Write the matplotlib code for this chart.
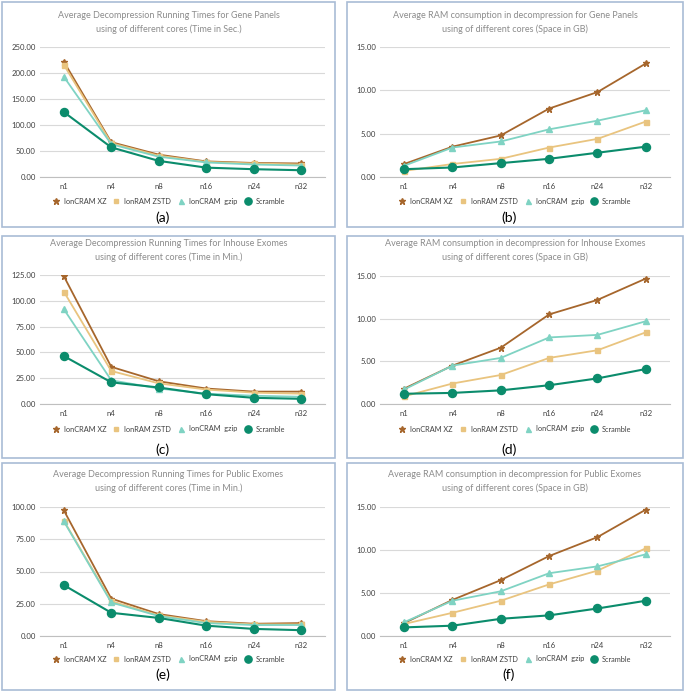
import numpy as np
import matplotlib
matplotlib.use("Agg")
import matplotlib.pyplot as plt
from matplotlib.lines import Line2D
from matplotlib.patches import Rectangle

plt.rcParams['font.family'] = ['Lato', 'DejaVu Sans']

cores = ['n1', 'n4', 'n8', 'n16', 'n24', 'n32']
series_names = ['IonCRAM XZ', 'IonRAM ZSTD', 'IonCRAM  gzip', 'Scramble']

# (a) gene panels, time in sec
gene_time_xz = [222, 67, 43, 30, 27, 26]
gene_time_zstd = [216, 65, 41, 29, 26, 24]
gene_time_gzip = [193, 63, 39, 28, 24, 22]
gene_time_scr = [125, 57, 31, 18, 15, 13]

# (b) gene panels, RAM in GB
gene_ram_xz = [1.5, 3.5, 4.8, 7.9, 9.8, 13.1]
gene_ram_zstd = [0.7, 1.5, 2.1, 3.4, 4.4, 6.4]
gene_ram_gzip = [1.3, 3.4, 4.1, 5.5, 6.5, 7.7]
gene_ram_scr = [0.9, 1.1, 1.6, 2.1, 2.8, 3.5]

# (c) inhouse exomes, time in min
inh_time_xz = [124, 36, 22, 15, 12, 12]
inh_time_zstd = [109, 32, 20, 14, 11, 10]
inh_time_gzip = [92, 23, 15, 10, 8, 7]
inh_time_scr = [46.5, 21, 16, 9.5, 6, 5]

# (d) inhouse exomes, RAM in GB
inh_ram_xz = [1.8, 4.5, 6.6, 10.5, 12.2, 14.7]
inh_ram_zstd = [0.9, 2.4, 3.4, 5.4, 6.3, 8.4]
inh_ram_gzip = [1.7, 4.5, 5.4, 7.8, 8.1, 9.7]
inh_ram_scr = [1.2, 1.3, 1.6, 2.2, 3.0, 4.1]

# (e) public exomes, time in min
pub_time_xz = [97.5, 29, 17, 11.5, 9.5, 10]
pub_time_zstd = [89.5, 27, 16, 11, 9, 9]
pub_time_gzip = [89, 26, 15.5, 10, 8.5, 8.5]
pub_time_scr = [39.5, 18, 14, 8, 5.5, 4.5]

# (f) public exomes, RAM in GB
pub_ram_xz = [1.5, 4.2, 6.5, 9.3, 11.5, 14.7]
pub_ram_zstd = [1.4, 2.7, 4.1, 6.0, 7.6, 10.2]
pub_ram_gzip = [1.6, 4.1, 5.2, 7.3, 8.1, 9.5]
pub_ram_scr = [1.0, 1.2, 2.0, 2.4, 3.2, 4.1]

titles = [
    'Average Decompression Running Times for Gene Panels\nusing of different cores (Time in Sec.)',
    'Average RAM consumption in decompression for Gene Panels\nusing of different cores (Space in GB)',
    'Average Decompression Running Times for Inhouse Exomes\nusing of different cores (Time in Min.)',
    'Average RAM consumption in decompression for Inhouse Exomes\nusing of different cores (Space in GB)',
    'Average Decompression Running Times for Public Exomes\nusing of different cores (Time in Min.)',
    'Average RAM consumption in decompression for Public Exomes\nusing of different cores (Space in GB)',
]
panel_labels = ['(a)', '(b)', '(c)', '(d)', '(e)', '(f)']
panel_data = [
    [gene_time_xz, gene_time_zstd, gene_time_gzip, gene_time_scr],
    [gene_ram_xz, gene_ram_zstd, gene_ram_gzip, gene_ram_scr],
    [inh_time_xz, inh_time_zstd, inh_time_gzip, inh_time_scr],
    [inh_ram_xz, inh_ram_zstd, inh_ram_gzip, inh_ram_scr],
    [pub_time_xz, pub_time_zstd, pub_time_gzip, pub_time_scr],
    [pub_ram_xz, pub_ram_zstd, pub_ram_gzip, pub_ram_scr],
]
y_max = [250, 15, 125, 15, 100, 15]
y_step = [50, 5, 25, 5, 25, 5]

colors = ['#A6662C', '#E9C47F', '#7FD3C3', '#0B8C6C']
markers = ['*', 's', '^', 'o']
msizes = [5, 3.6, 4, 5.8]
lwidths = [1.3, 1.3, 1.3, 1.5]

W, H = 685, 693
fig = plt.figure(figsize=(W / 100, H / 100), dpi=100)

# layout in pixels (x0, x1, y_top, y_bottom) for boxes and plot areas
boxes = [(2, 335, 2, 227), (347, 683, 2, 227),
         (2, 335, 236, 458), (347, 683, 236, 458),
         (2, 335, 463, 690), (347, 683, 463, 690)]
areas = [(40, 325, 47, 177), (380, 670, 47, 177),
         (40, 325, 275, 404), (380, 670, 276, 404),
         (40, 325, 507, 636), (380, 670, 507, 636)]
title_y = [17, 17, 245, 245, 476, 476]
legend_y = [201, 201, 429, 429, 659, 659]
label_y = [218, 218, 450, 450, 675, 675]


def fx(px):
    return px / W


def fy(py):
    return 1 - py / H


for i in range(6):
    bx0, bx1, by0, by1 = boxes[i]
    fig.patches.append(Rectangle((fx(bx0), fy(by1)), fx(bx1 - bx0), (by1 - by0) / H,
                                 transform=fig.transFigure, fill=False,
                                 edgecolor='#A9BCD6', linewidth=1.2))
    x0, x1, yt, yb = areas[i]
    ax = fig.add_axes([fx(x0), fy(yb), fx(x1 - x0), (yb - yt) / H])
    xs = np.arange(len(cores))
    for k in range(4):
        ax.plot(xs, panel_data[i][k], color=colors[k], marker=markers[k],
                markersize=msizes[k], linewidth=lwidths[k], zorder=3 + k)
    ax.set_xlim(-0.5, len(cores) - 0.5)
    ax.set_ylim(0, y_max[i])
    ticks = np.arange(0, y_max[i] + 0.01, y_step[i])
    ax.set_yticks(ticks)
    ax.set_yticklabels(['%.2f' % v for v in ticks])
    ax.set_xticks(xs)
    ax.set_xticklabels(cores)
    ax.tick_params(axis='y', length=0, labelsize=5.6, colors='#404040', pad=3)
    ax.tick_params(axis='x', length=0, labelsize=5.6, colors='#404040', pad=4)
    ax.grid(axis='y', color='#D9D9D9', linewidth=0.8)
    ax.set_axisbelow(True)
    for s in ['top', 'right', 'left']:
        ax.spines[s].set_visible(False)
    ax.spines['bottom'].set_color('#BFBFBF')
    ax.spines['bottom'].set_linewidth(0.8)

    cx = fx((bx0 + bx1) / 2)
    fig.text(cx, fy(title_y[i] - 6), titles[i], ha='center', va='top',
             fontsize=6.5, color='#8C8C8C', linespacing=1.6)
    handles = [Line2D([], [], color=colors[k], marker=markers[k], linestyle='none',
                      markersize=msizes[k] * 0.9) for k in range(4)]
    fig.legend(handles, series_names, loc='center', bbox_to_anchor=(cx, fy(legend_y[i])),
               ncol=4, frameon=False, fontsize=5.3, handletextpad=0.6, columnspacing=0.85,
               labelcolor='#404040', handlelength=1.0)
    fig.text(cx - fx(6), fy(label_y[i]), panel_labels[i], ha='center', va='center',
             fontsize=10, color='black')

fig.savefig('out.png', dpi=100)
